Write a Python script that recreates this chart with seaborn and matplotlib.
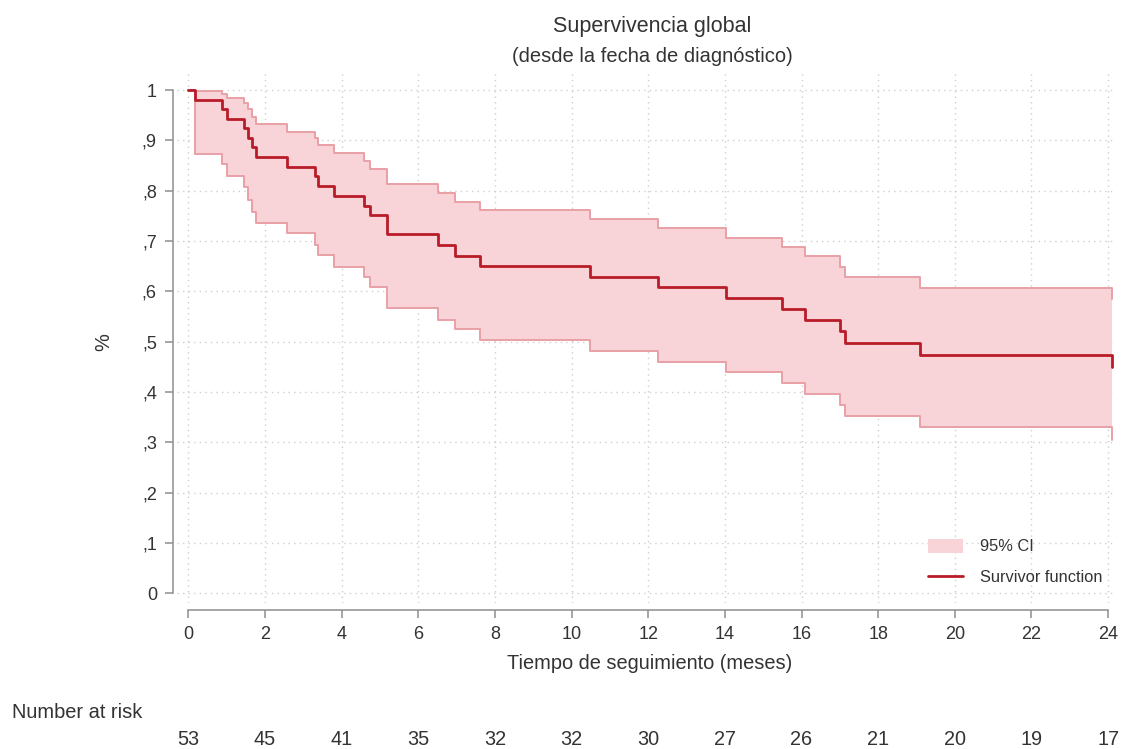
import numpy as np
import pandas as pd
import matplotlib
matplotlib.use("Agg")
import matplotlib.pyplot as plt
import matplotlib.transforms as mtransforms
from matplotlib.patches import Patch
from matplotlib.lines import Line2D
import seaborn as sns

# ---------------- data ----------------
time_months = [0, 0.17, 0.89, 1.00, 1.46, 1.57, 1.65, 1.76, 2.57, 3.31, 3.38, 3.81,
               4.59, 4.74, 5.18, 6.52, 6.96, 7.61, 10.48, 12.25, 14.02, 15.48,
               16.09, 17.00, 17.13, 19.08, 24.09]
survival = [1.000, 0.981, 0.962, 0.943, 0.924, 0.905, 0.886, 0.867, 0.848, 0.829,
            0.810, 0.790, 0.770, 0.751, 0.713, 0.692, 0.671, 0.650, 0.629, 0.608,
            0.586, 0.564, 0.543, 0.521, 0.498, 0.474, 0.450]
ci_lower = [1.000, 0.873, 0.854, 0.830, 0.808, 0.781, 0.758, 0.736, 0.716, 0.692,
            0.672, 0.649, 0.628, 0.609, 0.566, 0.544, 0.525, 0.503, 0.481, 0.460,
            0.439, 0.417, 0.396, 0.374, 0.353, 0.331, 0.305]
ci_upper = [1.000, 0.998, 0.992, 0.985, 0.975, 0.962, 0.947, 0.932, 0.917, 0.905,
            0.891, 0.875, 0.859, 0.844, 0.813, 0.796, 0.778, 0.762, 0.744, 0.725,
            0.707, 0.689, 0.670, 0.649, 0.629, 0.606, 0.584]

risk_times = [0, 2, 4, 6, 8, 10, 12, 14, 16, 18, 20, 22, 24]
number_at_risk = [53, 45, 41, 35, 32, 32, 30, 27, 26, 21, 20, 19, 17]

y_ticks = [0, 0.1, 0.2, 0.3, 0.4, 0.5, 0.6, 0.7, 0.8, 0.9, 1.0]
y_ticklabels = ["0", ",1", ",2", ",3", ",4", ",5", ",6", ",7", ",8", ",9", "1"]
x_ticks = [0, 2, 4, 6, 8, 10, 12, 14, 16, 18, 20, 22, 24]

title = "Supervivencia global"
subtitle = "(desde la fecha de diagnóstico)"
x_label = "Tiempo de seguimiento (meses)"
y_label = "%"
risk_label = "Number at risk"
legend_labels = ["95% CI", "Survivor function"]

df = pd.DataFrame({"t": time_months, "s": survival, "lo": ci_lower, "hi": ci_upper})

# ---------------- style ----------------
sns.set_theme(style="white")
plt.rcParams["font.family"] = ["Liberation Sans", "DejaVu Sans"]

TXT = "#333333"
AXC = "#8e8e8e"
GRID = "#cfcfcf"
FILL = "#f8d3d7"
EDGE = "#e8a0a6"
MAIN = "#b81c28"

fig = plt.figure(figsize=(11.23, 7.49), dpi=100)
ax = fig.add_axes([0.1574, 0.1944, 0.8362, 0.7089])

# CI band
ax.fill_between(df["t"], df["lo"], df["hi"], step="post", color=FILL, linewidth=0, zorder=1)
sns.lineplot(data=df, x="t", y="lo", ax=ax, color=EDGE, linewidth=1.4,
             drawstyle="steps-post", estimator=None, errorbar=None, zorder=2)
sns.lineplot(data=df, x="t", y="hi", ax=ax, color=EDGE, linewidth=1.4,
             drawstyle="steps-post", estimator=None, errorbar=None, zorder=2)
sns.lineplot(data=df, x="t", y="s", ax=ax, color=MAIN, linewidth=2.0,
             drawstyle="steps-post", estimator=None, errorbar=None, zorder=3)

ax.set_xlim(-0.3, 24.2)
ax.set_ylim(-0.02, 1.035)
ax.set_xticks(x_ticks)
ax.set_xticklabels([str(v) for v in x_ticks])
ax.set_yticks(y_ticks)
ax.set_yticklabels(y_ticklabels)

ax.grid(True, color=GRID, linestyle=(0, (1, 3)), linewidth=1.0, zorder=0)
ax.set_axisbelow(True)

for side in ["top", "right"]:
    ax.spines[side].set_visible(False)
ax.spines["left"].set_position(("outward", 3))
ax.spines["bottom"].set_position(("outward", 5))
ax.spines["left"].set_bounds(0, 1)
ax.spines["bottom"].set_bounds(0, 24)
for side in ["left", "bottom"]:
    ax.spines[side].set_color(AXC)
    ax.spines[side].set_linewidth(1.1)

ax.tick_params(axis="both", which="major", direction="out", length=5.8, width=1.1,
               color=AXC, labelcolor=TXT, labelsize=13, pad=5.5)
ax.tick_params(axis="x", bottom=True)
ax.tick_params(axis="y", left=True)

ax.set_xlabel(x_label, fontsize=14.4, color=TXT)
ax.xaxis.set_label_coords(0.504, -0.095)
ax.set_ylabel(y_label, fontsize=14.4, color=TXT)
ax.yaxis.set_label_coords(-0.068, 0.493)

# titles
fig.text(0.5806, 1 - 32 / 749, title, ha="center", va="baseline", fontsize=15.5, color=TXT)
fig.text(0.5806, 1 - 61.7 / 749, subtitle, ha="center", va="baseline", fontsize=14.5, color=TXT)

# number at risk
fig.text(12 / 1123, 1 - 718 / 749, risk_label, ha="left", va="baseline", fontsize=14.4, color=TXT)
trans = mtransforms.blended_transform_factory(ax.transData, fig.transFigure)
for tx, n in zip(risk_times, number_at_risk):
    ax.text(tx, 1 - 745 / 749, str(n), transform=trans, ha="center", va="baseline",
            fontsize=14.3, color=TXT, clip_on=False)

# legend
handles = [Patch(facecolor=FILL, edgecolor="none"),
           Line2D([0], [0], color=MAIN, linewidth=2.0)]
ax.legend(handles, legend_labels, loc="upper left", frameon=False,
          bbox_to_anchor=(928 / 1123, 1 - 539 / 749), bbox_transform=fig.transFigure,
          borderaxespad=0, borderpad=0, fontsize=11.8, handlelength=2.15,
          handleheight=0.9, handletextpad=1.0, labelspacing=0.95, labelcolor=TXT)

fig.savefig("out.png", dpi=100, facecolor="white")
